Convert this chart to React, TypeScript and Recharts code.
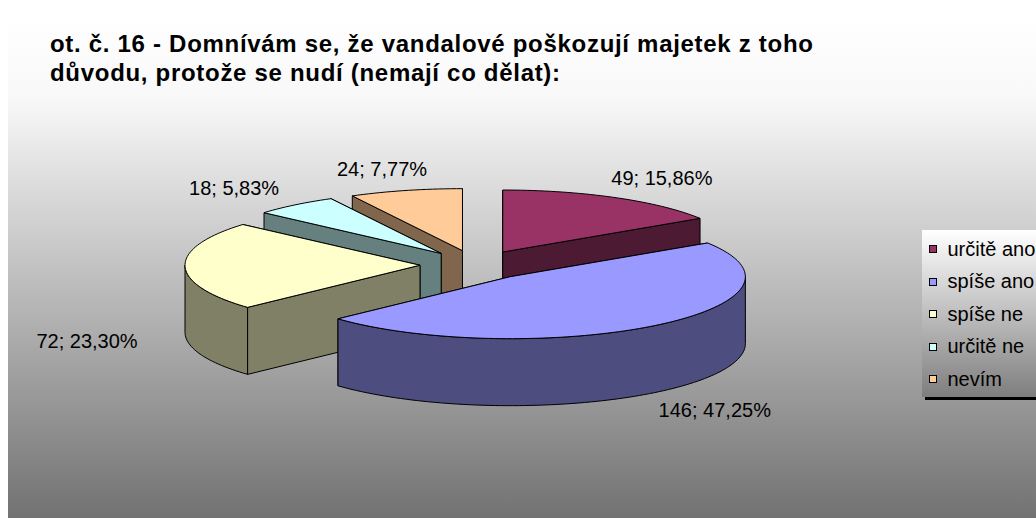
import React from 'react';
import { PieChart, Pie, Legend } from 'recharts';

// ---- data ----
const CATEGORIES = ['určitě ano', 'spíše ano', 'spíše ne', 'určitě ne', 'nevím'];
const COUNTS = [49, 146, 72, 18, 24];
const TOP_COLORS = ['#993366', '#9999FF', '#FFFFCC', '#CCFFFF', '#FFCC99'];
const TITLE_LINES = [
  'ot. č. 16 - Domnívám se, že vandalové poškozují majetek z toho',
  'důvodu, protože se nudí (nemají co dělat):',
];

const data = CATEGORIES.map((name, i) => ({ name, value: COUNTS[i] }));

// ---- layout / style ----
const W = 1036;
const H = 518;
const CX = 476;
const CY = 265;
const RX = 235;
const TILT = 62 / 235;
const DEPTH = 67;
const EXPLODE = 56;
const RAD = Math.PI / 180;
const FONT = '"Liberation Sans", Arial, Helvetica, sans-serif';

// paint order: slices further back (center higher on screen) are drawn first
const TOTAL = COUNTS.reduce((a, b) => a + b, 0);
const MIDS = (() => {
  let acc = 0;
  return COUNTS.map((v) => {
    const m = 90 - (360 * (acc + v / 2)) / TOTAL;
    acc += v;
    return m;
  });
})();
const ORDER = MIDS.map((m, i) => ({ i, s: Math.sin(m * RAD) }))
  .sort((a, b) => b.s - a.s)
  .map((o) => o.i);

const shade = (hex: string, f: number) => {
  const n = parseInt(hex.slice(1), 16);
  const r = (n >> 16) & 255;
  const g = (n >> 8) & 255;
  const b = n & 255;
  return `rgb(${Math.round(r * f)},${Math.round(g * f)},${Math.round(b * f)})`;
};

type P = [number, number];
const arcPts = (ox: number, oy: number, rx: number, ry: number, a0: number, a1: number, dy = 0): P[] => {
  const n = Math.max(2, Math.ceil(Math.abs(a1 - a0) / 1.5) + 1);
  const pts: P[] = [];
  for (let k = 0; k < n; k++) {
    const a = a0 + ((a1 - a0) * k) / (n - 1);
    pts.push([ox + rx * Math.cos(a * RAD), oy - ry * Math.sin(a * RAD) + dy]);
  }
  return pts;
};
const toPath = (pts: P[]) =>
  'M' + pts.map((p) => p[0].toFixed(2) + ',' + p[1].toFixed(2)).join('L') + 'Z';

const Slice3D = (props: any) => {
  const { cx, cy, startAngle, endAngle, outerRadius, index, value, percent } = props;
  const lo = Math.min(startAngle, endAngle);
  const hi = Math.max(startAngle, endAngle);
  const mid = (lo + hi) / 2;
  const rx = outerRadius;
  const ry = outerRadius * TILT;
  const ox = cx + EXPLODE * Math.cos(mid * RAD);
  const oy = cy - EXPLODE * TILT * Math.sin(mid * RAD);
  const top = TOP_COLORS[index];
  const side = shade(top, 0.5);
  const stroke = { stroke: '#000', strokeWidth: 1, strokeLinejoin: 'round' as const };

  // curved outer side (front part only)
  const bounds: number[] = [lo];
  for (let k = Math.ceil(lo / 180) * 180; k < hi; k += 180) if (k > lo) bounds.push(k);
  bounds.push(hi);
  const curved: string[] = [];
  for (let j = 0; j < bounds.length - 1; j++) {
    const s = bounds[j];
    const t = bounds[j + 1];
    if (Math.sin(((s + t) / 2) * RAD) < 0) {
      const upper = arcPts(ox, oy, rx, ry, s, t);
      const lower = arcPts(ox, oy, rx, ry, t, s, DEPTH);
      curved.push(toPath([...upper, ...lower]));
    }
  }

  // radial faces
  const radial = (theta: number, normal: number) => {
    const p: P = [ox + rx * Math.cos(theta * RAD), oy - ry * Math.sin(theta * RAD)];
    return {
      front: Math.sin(normal * RAD) < 0,
      d: toPath([[ox, oy], p, [p[0], p[1] + DEPTH], [ox, oy + DEPTH]]),
    };
  };
  const faces = [radial(hi, hi + 90), radial(lo, lo - 90)];

  const topFace = toPath([[ox, oy], ...arcPts(ox, oy, rx, ry, hi, lo)]);

  const sm = Math.sin(mid * RAD);
  const lx = ox + (rx + 98) * Math.cos(mid * RAD);
  const ly = sm < 0.05 ? oy - (ry + 12) * sm + DEPTH + 8 : oy - (ry + 22) * sm;
  const label = `${value}; ${(percent * 100).toFixed(2).replace('.', ',')}%`;

  return (
    <g>
      {faces.filter((f) => !f.front).map((f, k) => (
        <path key={'b' + k} d={f.d} fill={side} {...stroke} />
      ))}
      {curved.map((d, k) => (
        <path key={'c' + k} d={d} fill={side} {...stroke} />
      ))}
      {faces.filter((f) => f.front).map((f, k) => (
        <path key={'f' + k} d={f.d} fill={side} {...stroke} />
      ))}
      <path d={topFace} fill={top} {...stroke} />
      <text
        x={lx}
        y={ly}
        textAnchor="middle"
        dominantBaseline="central"
        fontFamily={FONT}
        fontSize={20}
        fill="#000"
      >
        {label}
      </text>
    </g>
  );
};

const LegendBox = (props: any) => {
  const seen = new Set<string>();
  const items = (props.payload || [])
    .filter((p: any) => {
      if (seen.has(p.value) || CATEGORIES.indexOf(p.value) < 0) return false;
      seen.add(p.value);
      return true;
    })
    .sort((a: any, b: any) => CATEGORIES.indexOf(a.value) - CATEGORIES.indexOf(b.value));
  return (
    <div
      style={{
        width: 130,
        height: 167,
        boxSizing: 'border-box',
        paddingTop: 3,
        background: 'linear-gradient(#ffffff, #7e7e7e)',
        boxShadow: '3px 3px 0 #000',
        fontFamily: FONT,
        fontSize: 20,
        color: '#000',
      }}
    >
      {items.map((it: any) => {
        const i = CATEGORIES.indexOf(it.value);
        return (
          <div
            key={it.value}
            style={{ height: 32.5, display: 'flex', alignItems: 'center', whiteSpace: 'nowrap' }}
          >
            <span
              style={{
                display: 'inline-block',
                width: 6,
                height: 6,
                border: '1px solid #000',
                background: TOP_COLORS[i],
                marginLeft: 6.5,
                marginRight: 11,
                flex: 'none',
              }}
            />
            <span>{it.value}</span>
          </div>
        );
      })}
    </div>
  );
};

export default function App() {
  return (
    <div
      style={{
        position: 'fixed',
        left: 0,
        top: 0,
        width: W,
        height: H,
        overflow: 'hidden',
        background: '#ffffff',
      }}
    >
      <div
        style={{
          position: 'absolute',
          left: 8,
          top: 18,
          width: W - 8,
          height: H - 18,
          background: 'linear-gradient(to bottom, #ffffff 0%, #f8f8f8 16%, #727272 100%)',
        }}
      />
      <svg width={W} height={H} style={{ position: 'absolute', left: 0, top: 0 }}>
        {TITLE_LINES.map((t, i) => (
          <text
            key={i}
            x={50}
            y={52 + i * 29}
            fontFamily={FONT}
            fontWeight="bold"
            fontSize={24}
            fill="#000"
            style={{ letterSpacing: '0.7px' }}
          >
            {t}
          </text>
        ))}
      </svg>
      <div style={{ position: 'absolute', left: 0, top: 0 }}>
        <PieChart width={W} height={H} margin={{ top: 0, right: 0, bottom: 0, left: 0 }}>
          {ORDER.map((idx, rank) => (
            <Pie
              key={'pie' + rank}
              data={data}
              dataKey="value"
              nameKey="name"
              cx={CX}
              cy={CY}
              outerRadius={RX}
              startAngle={90}
              endAngle={-270}
              isAnimationActive={false}
              fill="transparent"
              stroke="none"
              labelLine={false}
              legendType={rank === 0 ? 'square' : 'none'}
              label={(p: any) => (p.index === idx ? <Slice3D {...p} /> : null)}
            />
          ))}
          <Legend
            layout="vertical"
            align="right"
            verticalAlign="top"
            content={LegendBox}
            wrapperStyle={{ left: 922, top: 230, width: 130, height: 167 }}
          />
        </PieChart>
      </div>
    </div>
  );
}
